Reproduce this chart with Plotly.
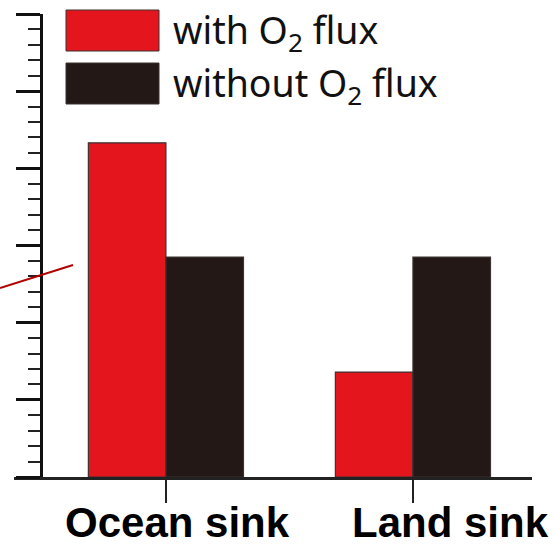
import plotly.graph_objects as go

categories = ["Ocean sink", "Land sink"]
with_o2 = [4.33, 1.36]
without_o2 = [2.85, 2.85]
series_names = ["with O<sub>2</sub> flux", "without O<sub>2</sub> flux"]
colors = ["#E5151D", "#231815"]

W, H = 554, 545
PL, PR, PT, PB = 14, 532, 14, 477  # plot area in screen pixels
ML, MT = PL, PT
MR = W - PR
MB = H - PB
pw = PR - PL
ph = PB - PT

def px(x):
    return (x - PL) / pw

def py(y):
    return (PB - y) / ph

fig = go.Figure()
for vals, name, col in zip([with_o2, without_o2], series_names, colors):
    fig.add_trace(go.Bar(
        x=categories, y=vals, name=name,
        marker=dict(color=col, line=dict(color="#3a3232", width=1.2)),
        showlegend=False,
    ))

fig.update_layout(
    width=W, height=H,
    margin=dict(l=ML, r=MR, t=MT, b=MB, pad=0),
    paper_bgcolor="white", plot_bgcolor="white",
    barmode="group", bargap=0.372, bargroupgap=0,
    xaxis=dict(
        range=[-0.615, 1.482], showgrid=False, zeroline=False,
        showline=True, linecolor="#222", linewidth=2.5,
        ticks="outside", ticklen=23, tickwidth=2, tickcolor="#222",
        showticklabels=False,
    ),
    yaxis=dict(
        range=[0, 6], showgrid=False, zeroline=False,
        anchor="free", position=px(41),
        showline=True, linecolor="#111", linewidth=3,
        ticks="outside", ticklen=24, tickwidth=3, tickcolor="#111",
        dtick=1, tick0=0, showticklabels=False,
        minor=dict(ticks="outside", ticklen=12, tickwidth=2, tickcolor="#222", dtick=0.2, tick0=0, showgrid=False),
    ),
)

# legend boxes drawn manually
for i, (name, col) in enumerate(zip(series_names, colors)):
    top = 10 + i * 53
    fig.add_shape(type="rect", xref="paper", yref="paper",
                  x0=px(66), x1=px(159), y0=py(top + 41), y1=py(top),
                  fillcolor=col, line=dict(color="#3a3232", width=1))
    fig.add_annotation(xref="paper", yref="paper", x=px(171), y=py(top + 22),
                       xanchor="left", yanchor="middle", showarrow=False,
                       text=name, font=dict(family="Noto Sans", size=37.5, color="#111"))

# category labels
label_x = [177, 450]
for lab, lx in zip(categories, label_x):
    fig.add_annotation(xref="paper", yref="paper", x=px(lx), y=py(522),
                       xanchor="center", yanchor="middle", showarrow=False,
                       text="<b>" + lab + "</b>",
                       font=dict(family="Liberation Sans", size=42, color="black"))

# stray red pointer line
fig.add_shape(type="line", xref="paper", yref="paper",
              x0=px(0), y0=py(288), x1=px(73), y1=py(265),
              line=dict(color="#B00000", width=2))

fig.write_html("out.html", config={"displayModeBar": False},
               post_script="document.body.style.margin='0px';document.body.style.overflow='hidden';")
